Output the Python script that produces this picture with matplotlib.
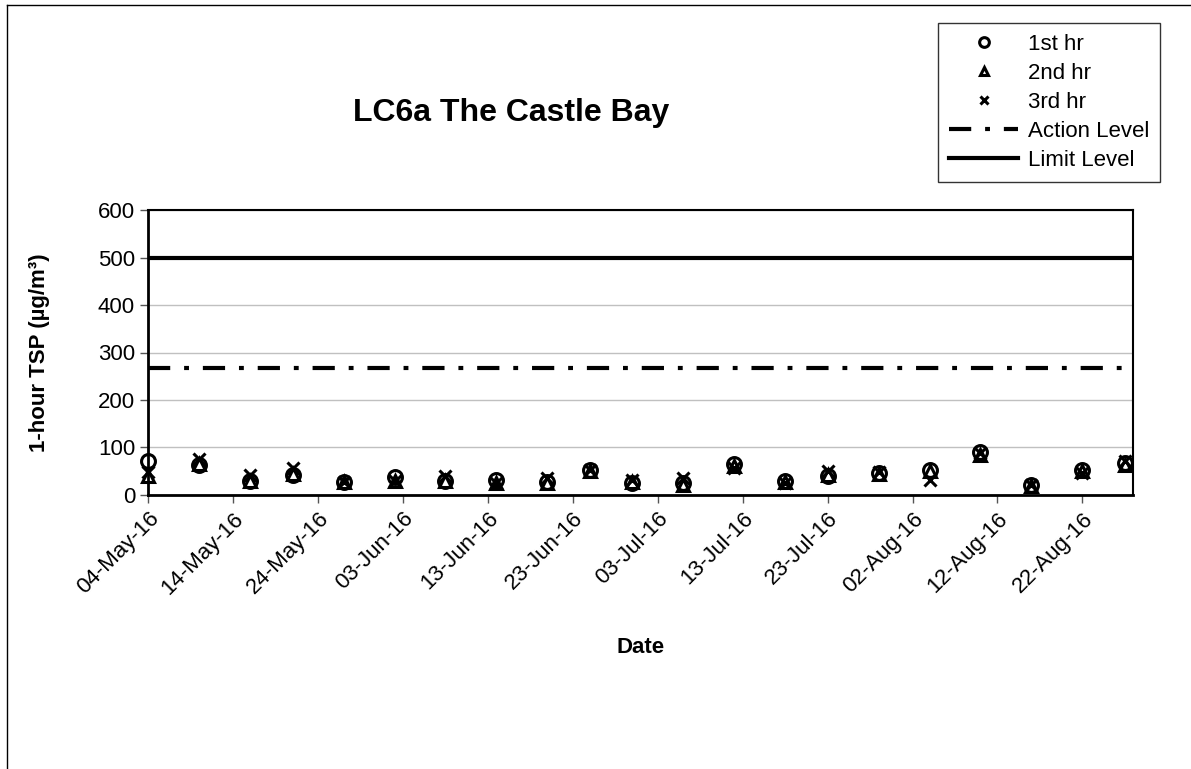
import matplotlib
matplotlib.use("Agg")
import matplotlib.pyplot as plt
import matplotlib.dates as mdates
from matplotlib.lines import Line2D
import numpy as np
import pandas as pd

plt.rcParams['font.family'] = ['Liberation Sans', 'DejaVu Sans']
plt.rcParams['lines.scale_dashes'] = False

# sampling dates and 1-hour TSP readings (ug/m3)
dates = pd.to_datetime([
    "2016-05-04", "2016-05-10", "2016-05-16", "2016-05-21", "2016-05-27",
    "2016-06-02", "2016-06-08", "2016-06-14", "2016-06-20", "2016-06-25",
    "2016-06-30", "2016-07-06", "2016-07-12", "2016-07-18", "2016-07-23",
    "2016-07-29", "2016-08-04", "2016-08-10", "2016-08-16", "2016-08-22",
    "2016-08-27"])
hr1 = [72, 63, 30, 42, 28, 38, 30, 32, 28, 52, 25, 25, 65, 30, 40, 46, 52, 90, 22, 52, 68]
hr2 = [40, 65, 30, 45, 27, 30, 30, 25, 25, 50, 28, 22, 60, 28, 42, 45, 50, 85, 18, 50, 63]
hr3 = [48, 76, 42, 56, 28, 30, 40, 25, 36, 52, 32, 36, 56, 25, 50, 48, 32, 88, 20, 46, 72]
action_level = 268
limit_level = 500
x_start, x_end = "2016-05-04", "2016-08-28"

W, H = 1191, 769
fig = plt.figure(figsize=(W / 100, H / 100), dpi=100)
ax = fig.add_axes([148.3 / W, 1 - 495 / H, (1133.3 - 148.3) / W, (495 - 210) / H])

ax.plot(dates, hr1, ls='none', marker='o', ms=10, mfc='none', mec='black', mew=2.2, label='1st hr', clip_on=False, zorder=5)
ax.plot(dates, hr2, ls='none', marker='^', ms=9, mfc='none', mec='black', mew=2.2, label='2nd hr', clip_on=False, zorder=5)
ax.plot(dates, hr3, ls='none', marker='x', ms=8, mec='black', mew=2.2, label='3rd hr', clip_on=False, zorder=5)

xr = pd.to_datetime([x_start, x_end])
ax.plot(xr, [action_level] * 2, color='black', lw=3,
        linestyle=(0, (16, 10, 3.5, 10)), solid_capstyle='butt', dash_capstyle='butt', label='Action Level')
ax.plot(xr, [limit_level] * 2, color='black', lw=3, label='Limit Level')

ax.set_xlim(xr[0], xr[1])
ax.set_ylim(0, 600)
ax.set_yticks(np.arange(0, 601, 100))
ax.set_xticks(pd.date_range(x_start, x_end, freq='10D'))
ax.xaxis.set_major_formatter(mdates.DateFormatter('%d-%b-%y'))
ax.grid(axis='y', color='#c0c0c0', lw=1)
ax.set_axisbelow(True)

for s in ['left', 'bottom']:
    ax.spines[s].set_linewidth(2)
for s in ['top', 'right']:
    ax.spines[s].set_linewidth(1.5)
ax.tick_params(axis='both', direction='out', length=6, width=1, color='#555555', labelsize=16)
plt.setp(ax.get_xticklabels(), rotation=45, ha='right', rotation_mode='anchor')

ax.set_ylabel('1-hour TSP (µg/m³)', fontsize=16, fontweight='bold')
ax.yaxis.set_label_coords((50 - 148.3) / 985, 0.5)
ax.set_xlabel('Date', fontsize=16, fontweight='bold')
ax.xaxis.set_label_coords(0.5, (495 - 637) / 285)

fig.text(353 / W, 1 - 113 / H, 'LC6a The Castle Bay', fontsize=23, fontweight='bold',
         ha='left', va='center')

handles, labels = ax.get_legend_handles_labels()
leg = fig.legend(handles, labels, loc='upper left', bbox_to_anchor=(938 / W, 1 - 23 / H),
                 fontsize=16, frameon=True, fancybox=False, edgecolor='black',
                 handlelength=3.1, handletextpad=0.45, labelspacing=0.36, borderpad=0.5,
                 borderaxespad=0, markerscale=0.7, numpoints=1)
leg.get_frame().set_linewidth(1)

# chart area border
fig.add_artist(Line2D([7 / W, 7 / W], [0, 1 - 5 / H], color='black', lw=1))
fig.add_artist(Line2D([7 / W, 1], [1 - 5 / H, 1 - 5 / H], color='black', lw=1))

fig.savefig('out.png', dpi=100)
